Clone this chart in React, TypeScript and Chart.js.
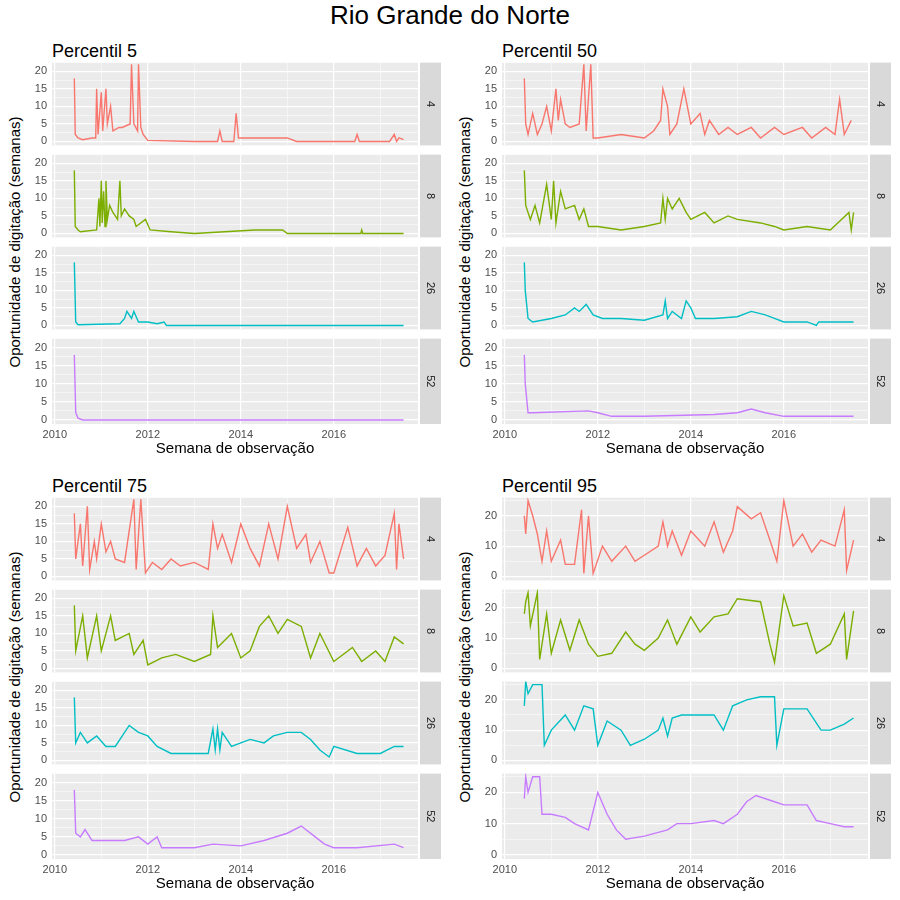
import { useEffect, useRef } from "react";
import { Chart, registerables } from "chart.js";

Chart.register(...registerables);

const COLORS = ["#F8766D", "#7CAE00", "#00BFC4", "#C77CFF"];
const FACETS = ["4", "8", "26", "52"];
const PANELS = ["Percentil 5", "Percentil 50", "Percentil 75", "Percentil 95"];
const X_TICKS = [2010, 2012, 2014, 2016];

// flat [year, value, year, value, ...]
const p5_4 = [2010.42,18,2010.44,2,2010.5,1,2010.6,0.5,2010.8,1,2010.88,1,2010.9,15,2010.93,2,2011.0,14,2011.03,3,2011.1,15,2011.13,5,2011.2,10,2011.25,3,2011.38,4,2011.45,4,2011.62,5,2011.65,22,2011.7,5,2011.78,3,2011.8,22,2011.85,4,2011.9,2,2012,0.3,2013,0,2013.5,0,2013.55,3,2013.6,0,2013.85,0,2013.9,8,2013.95,1,2014.5,1,2015,1,2015.2,0,2016.45,0,2016.5,2,2016.55,0,2017.2,0,2017.3,2,2017.35,0,2017.4,1,2017.5,0.5];
const p5_8 = [2010.42,18,2010.44,2,2010.5,1,2010.55,0.5,2010.9,1,2010.95,10,2010.97,2,2011.0,15,2011.02,3,2011.05,12,2011.08,2,2011.1,15,2011.13,4,2011.18,8,2011.25,6,2011.35,4,2011.4,15,2011.43,5,2011.5,7,2011.6,5,2011.7,4,2011.75,2,2011.95,4,2012.05,1,2012.5,0.5,2013,0,2014.3,1,2014.9,1,2015,0,2016.58,0,2016.6,1,2016.62,0,2017.5,0];
const p5_26 = [2010.42,18,2010.45,1,2010.5,0.2,2011.4,0.5,2011.5,2,2011.55,4,2011.65,2,2011.7,4,2011.8,1,2012,1,2012.2,0.5,2012.35,1,2012.4,0,2017.5,0];
const p5_52 = [2010.42,18,2010.45,2,2010.5,0.5,2010.6,0,2017.5,0];

const p50_4 = [2010.42,18,2010.45,5,2010.5,2,2010.6,8,2010.7,2,2010.8,5,2010.9,10,2011.0,3,2011.1,15,2011.15,6,2011.2,12,2011.3,5,2011.4,4,2011.6,5,2011.7,22,2011.75,3,2011.85,22,2011.9,1,2012,1,2012.5,2,2013,1,2013.2,3,2013.35,6,2013.4,15,2013.5,10,2013.55,2,2013.7,5,2013.85,15,2014,5,2014.2,8,2014.3,2,2014.4,6,2014.6,2,2014.8,4,2015,2,2015.3,4,2015.5,1,2015.8,4,2016,2,2016.4,4,2016.6,1,2016.9,4,2017.1,2,2017.2,12,2017.3,2,2017.45,6];
const p50_8 = [2010.42,18,2010.45,8,2010.55,4,2010.65,8,2010.75,3,2010.9,14,2011.0,4,2011.05,15,2011.1,3,2011.2,12,2011.3,7,2011.5,8,2011.6,4,2011.7,7,2011.8,2,2012,2,2012.5,1,2013,2,2013.35,3,2013.4,10,2013.45,4,2013.5,10,2013.6,7,2013.75,10,2013.9,6,2014,4,2014.3,6,2014.5,3,2014.8,5,2015,4,2015.5,3,2015.8,2,2016,1,2016.5,2,2017,1,2017.4,6,2017.45,1,2017.5,6];
const p50_26 = [2010.42,18,2010.44,10,2010.5,2,2010.6,1,2011,2,2011.3,3,2011.5,5,2011.6,4,2011.75,6,2011.9,3,2012.1,2,2012.5,2,2013,1.5,2013.4,3,2013.45,7,2013.5,2,2013.6,4,2013.8,2,2013.9,7,2014,5,2014.1,2,2014.5,2,2015,2.5,2015.3,4,2015.6,3,2015.8,2,2016,1,2016.5,1,2016.7,0,2016.75,1,2017.5,1];
const p50_52 = [2010.42,18,2010.44,10,2010.5,2,2010.6,2,2011.8,2.5,2012,2,2012.3,1,2013,1,2014.5,1.5,2015,2,2015.3,3,2015.6,2,2016,1,2017.5,1];

const p75_4 = [2010.42,18,2010.45,5,2010.55,15,2010.6,3,2010.7,20,2010.75,2,2010.85,10,2010.9,5,2011,15,2011.1,7,2011.2,10,2011.3,5,2011.5,4,2011.7,22,2011.75,2,2011.85,22,2011.95,1,2012.1,4,2012.3,2,2012.5,5,2012.7,3,2013,4,2013.3,2,2013.4,15,2013.5,8,2013.6,12,2013.8,4,2014,15,2014.2,8,2014.4,3,2014.6,15,2014.8,5,2015,20,2015.2,8,2015.4,12,2015.5,4,2015.7,10,2015.9,1,2016,1,2016.3,14,2016.5,3,2016.7,8,2016.9,3,2017.1,6,2017.3,18,2017.35,2,2017.4,15,2017.5,5];
const p75_8 = [2010.42,18,2010.45,5,2010.6,15,2010.7,3,2010.9,15,2011,5,2011.2,15,2011.3,8,2011.6,10,2011.7,4,2011.9,8,2012,1,2012.3,3,2012.6,4,2013,2,2013.35,4,2013.4,15,2013.5,6,2013.8,10,2014,3,2014.2,5,2014.4,12,2014.6,15,2014.8,10,2015,14,2015.3,12,2015.5,3,2015.7,10,2016,2,2016.4,6,2016.6,2,2016.9,5,2017.1,2,2017.3,9,2017.5,7];
const p75_26 = [2010.42,18,2010.45,5,2010.55,8,2010.7,5,2010.9,7,2011.1,4,2011.3,4,2011.6,10,2011.8,8,2012,7,2012.2,4,2012.5,2,2013.3,2,2013.4,9,2013.45,3,2013.5,9,2013.55,3,2013.6,8,2013.8,4,2014,5,2014.2,6,2014.5,5,2014.7,7,2015,8,2015.3,8,2015.5,6,2015.7,3,2015.9,1,2016,4,2016.5,2,2017,2,2017.3,4,2017.5,4];
const p75_52 = [2010.42,18,2010.45,6,2010.55,5,2010.65,7,2010.8,4,2011.5,4,2011.8,5,2012,3,2012.2,5,2012.3,2,2013,2,2013.4,3,2014,2.5,2014.5,4,2015,6,2015.3,8,2015.6,5,2015.8,3,2016,2,2016.5,2,2017.3,3,2017.5,2];

const p95_4 = [2010.42,20,2010.45,14,2010.5,25,2010.6,20,2010.7,14,2010.8,5,2010.9,15,2011,5,2011.2,12,2011.3,4,2011.5,4,2011.65,22,2011.7,1,2011.8,20,2011.9,1,2012.1,10,2012.3,5,2012.6,10,2012.8,5,2013,7,2013.3,10,2013.4,18,2013.5,10,2013.6,15,2013.8,7,2014,15,2014.3,10,2014.5,18,2014.7,8,2014.9,15,2015,23,2015.3,19,2015.5,21,2015.7,12,2015.85,5,2016,25,2016.2,10,2016.4,14,2016.6,8,2016.8,12,2017.1,10,2017.3,22,2017.35,2,2017.5,12];
const p95_8 = [2010.42,18,2010.45,22,2010.5,25,2010.55,14,2010.7,25,2010.75,3,2010.9,18,2011,5,2011.2,16,2011.4,6,2011.6,16,2011.8,8,2012,4,2012.3,5,2012.6,12,2012.8,8,2013,6,2013.3,10,2013.5,16,2013.7,8,2014,17,2014.2,12,2014.5,17,2014.8,18,2015,23,2015.5,22,2015.7,8,2015.8,2,2016,24,2016.2,14,2016.5,15,2016.7,5,2017,8,2017.3,18,2017.35,3,2017.5,19];
const p95_26 = [2010.42,18,2010.45,26,2010.5,22,2010.6,25,2010.8,25,2010.85,5,2011.0,10,2011.3,15,2011.5,10,2011.7,18,2011.9,17,2012,5,2012.2,13,2012.5,10,2012.7,5,2013,7,2013.3,10,2013.4,14,2013.5,8,2013.6,14,2013.8,15,2014,15,2014.5,15,2014.7,10,2014.9,18,2015.2,20,2015.5,21,2015.8,21,2015.85,5,2016,17,2016.5,17,2016.8,10,2017,10,2017.3,12,2017.5,14];
const p95_52 = [2010.42,18,2010.45,25,2010.5,20,2010.6,25,2010.75,25,2010.8,13,2011,13,2011.3,12,2011.5,10,2011.8,8,2012,20,2012.2,13,2012.4,8,2012.6,5,2013,6,2013.5,8,2013.7,10,2014,10,2014.5,11,2014.7,10,2015,13,2015.2,17,2015.4,19,2015.8,17,2016,16,2016.5,16,2016.7,11,2017,10,2017.3,9,2017.5,9];

const SERIES = [
  [p5_4, p5_8, p5_26, p5_52],
  [p50_4, p50_8, p50_26, p50_52],
  [p75_4, p75_8, p75_26, p75_52],
  [p95_4, p95_8, p95_26, p95_52],
];

const FONT = "'Liberation Sans', Arial, sans-serif";
const PAD = 9; // room for the y tick labels above/below the plot area

function toPoints(flat: number[]) {
  const pts = [];
  for (let i = 0; i < flat.length; i += 2) pts.push({ x: flat[i], y: flat[i + 1] });
  return pts;
}

const panelBg = {
  id: "panelBg",
  beforeDraw(chart: any, _a: any, opts: any) {
    const { ctx, chartArea } = chart;
    ctx.save();
    ctx.fillStyle = "#EBEBEB";
    ctx.fillRect(chartArea.left, chartArea.top, chartArea.right - chartArea.left, chartArea.bottom - chartArea.top);
    const sx = chartArea.right + 2;
    ctx.fillStyle = "#D9D9D9";
    ctx.fillRect(sx, chartArea.top, 21, chartArea.bottom - chartArea.top);
    ctx.translate(sx + 10.5, (chartArea.top + chartArea.bottom) / 2);
    ctx.rotate(Math.PI / 2);
    ctx.fillStyle = "#1A1A1A";
    ctx.font = `11px ${FONT}`;
    ctx.textAlign = "center";
    ctx.textBaseline = "middle";
    ctx.fillText(opts.label, 0, 0);
    ctx.restore();
  },
};

function Facet({ data, color, label, ymax, major, showX }: any) {
  const ref = useRef<HTMLCanvasElement>(null);
  useEffect(() => {
    if (!ref.current) return;
    const chart = new Chart(ref.current, {
      type: "line",
      data: {
        datasets: [{ data: toPoints(data), borderColor: color, borderWidth: 1.4, pointRadius: 0, tension: 0 }],
      },
      plugins: [panelBg],
      options: {
        responsive: false,
        animation: false,
        layout: { padding: { right: 23, top: 0, bottom: 0, left: 0 } },
        plugins: { legend: { display: false }, tooltip: { enabled: false }, panelBg: { label } } as any,
        scales: {
          x: {
            type: "linear",
            min: 2009.94,
            max: 2017.81,
            afterBuildTicks: (s: any) => {
              s.ticks = [2010, 2011, 2012, 2013, 2014, 2015, 2016, 2017].map((v) => ({ value: v }));
            },
            afterFit: (s: any) => { s.height = showX ? 16 + PAD : PAD; },
            border: { display: false },
            grid: { color: "#FFFFFF", lineWidth: (c: any) => (c.tick && c.tick.value % 2 === 0 ? 1.2 : 0.5), drawTicks: false },
            ticks: {
              display: showX,
              padding: 4,
              color: "#4D4D4D",
              font: { size: 11, family: FONT },
              callback: (v: any) => (X_TICKS.includes(v) ? String(v) : ""),
              maxRotation: 0,
              autoSkip: false,
            },
          },
          y: {
            min: -ymax * 0.05,
            max: ymax,
            afterBuildTicks: (s: any) => {
              const t = [];
              for (let v = 0; v <= ymax; v += major / 2) t.push({ value: v });
              s.ticks = t;
            },
            afterFit: (s: any) => { s.width = 32; },
            border: { display: false },
            grid: { color: "#FFFFFF", lineWidth: (c: any) => (c.tick && c.tick.value % major === 0 ? 1.2 : 0.5), drawTicks: false },
            ticks: {
              padding: 5,
              color: "#4D4D4D",
              font: { size: 11, family: FONT },
              callback: (v: any) => (v % major === 0 ? String(v) : ""),
              autoSkip: false,
            },
          },
        },
      },
    });
    // force the plot area to span the intended 88px band
    chart.options.layout.padding = { right: 23, top: PAD, bottom: 0, left: 0 } as any;
    chart.update();
    return () => chart.destroy();
  }, [data, color, label, ymax, major, showX]);
  return <canvas ref={ref} width={421} height={88 + 2 * PAD + (showX ? 16 : 0)} />;
}

function Panel({ idx, left, top }: any) {
  const p95 = idx === 3;
  return (
    <>
      <div style={{ position: "absolute", left: left + 52, top: top - 4, fontSize: 18, color: "#000" }}>{PANELS[idx]}</div>
      <div
        style={{
          position: "absolute", left: left + 14, top: top + 197, fontSize: 15, whiteSpace: "nowrap",
          transform: "translate(-50%, -50%) rotate(-90deg)",
        }}
      >
        Oportunidade de digitação (semanas)
      </div>
      {FACETS.map((f, i) => (
        <div key={f} style={{ position: "absolute", left: left + 20, top: top + 15 + i * 92 - PAD }}>
          <Facet data={SERIES[idx][i]} color={COLORS[i]} label={f} ymax={p95 ? 26 : 22.5} major={p95 ? 10 : 5} showX={i === 3} />
        </div>
      ))}
      <div style={{ position: "absolute", left: left + 235, top: top + 394, fontSize: 15, transform: "translateX(-50%)", whiteSpace: "nowrap" }}>
        Semana de observação
      </div>
    </>
  );
}

export default function App() {
  return (
    <div style={{ position: "fixed", left: 0, top: 0, width: 900, height: 900, background: "#fff", fontFamily: FONT }}>
      <div style={{ position: "absolute", top: 0, width: 900, textAlign: "center", fontSize: 26 }}>Rio Grande do Norte</div>
      <Panel idx={0} left={0} top={45} />
      <Panel idx={1} left={450} top={45} />
      <Panel idx={2} left={0} top={480} />
      <Panel idx={3} left={450} top={480} />
    </div>
  );
}
